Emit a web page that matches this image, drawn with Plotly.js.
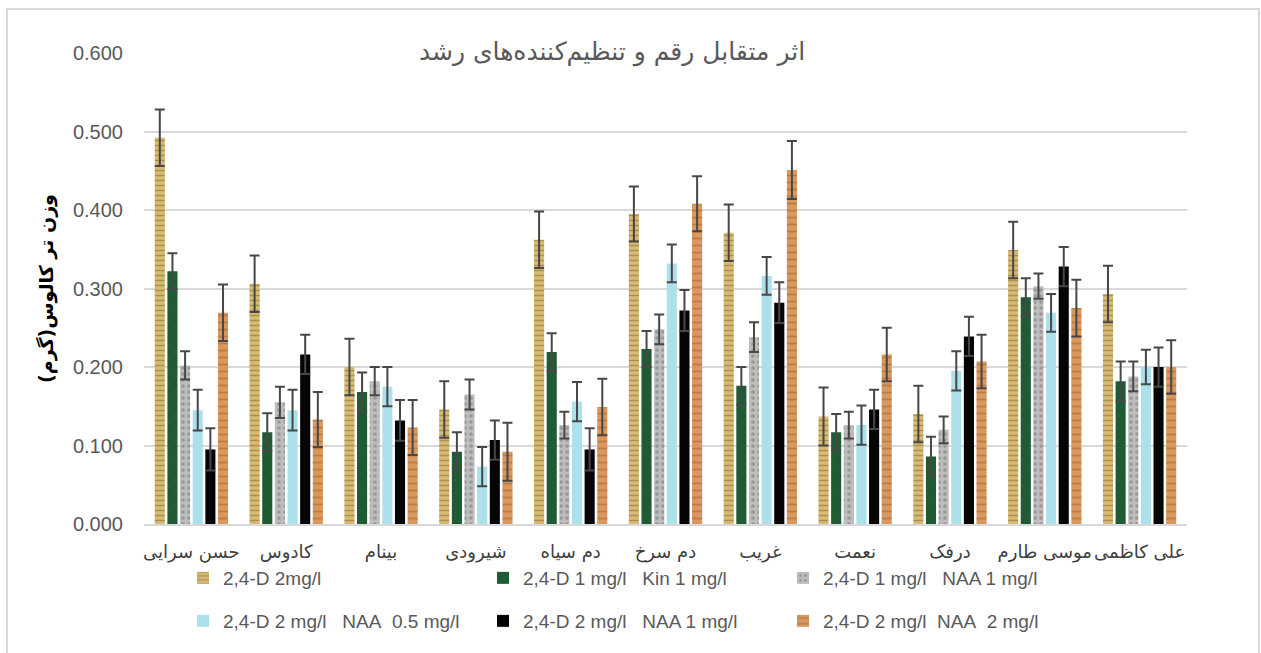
<!DOCTYPE html>
<html>
<head>
<meta charset="utf-8">
<script src="https://cdn.plot.ly/plotly-3.0.1.min.js"></script>
<style>
  html, body { margin: 0; padding: 0; background: #ffffff; }
  #chart { width: 1261px; height: 653px; }
  #frame { position: absolute; left: 6px; top: 8px; width: 1250px; height: 660px; border: 2px solid #d9d9d9; pointer-events: none; }
</style>
</head>
<body>
<div id="chart"></div>
<div id="frame"></div>
<script>
const categories = ["حسن سرایی", "کادوس", "بینام", "شیرودی", "دم سیاه", "دم سرخ", "غریب", "نعمت", "درفک", "موسی طارم", "علی کاظمی"];

const seriesNames = [
  "2,4-D 2mg/l",
  "2,4-D 1 mg/l\u00a0\u00a0\u00a0Kin 1 mg/l",
  "2,4-D 1 mg/l\u00a0\u00a0\u00a0NAA 1 mg/l",
  "2,4-D 2 mg/l\u00a0\u00a0\u00a0NAA\u00a0\u00a00.5 mg/l",
  "2,4-D 2 mg/l\u00a0\u00a0\u00a0NAA 1 mg/l",
  "2,4-D 2 mg/l\u00a0\u00a0NAA\u00a0\u00a02 mg/l"
];

const d2 = [0.492, 0.306, 0.200, 0.146, 0.362, 0.395, 0.371, 0.137, 0.140, 0.349, 0.293];
const d2Err = [0.036, 0.036, 0.036, 0.036, 0.036, 0.035, 0.036, 0.037, 0.036, 0.036, 0.036];

const d1Kin1 = [0.322, 0.117, 0.168, 0.092, 0.219, 0.223, 0.176, 0.117, 0.086, 0.289, 0.182];
const d1Kin1Err = [0.023, 0.024, 0.025, 0.025, 0.024, 0.023, 0.024, 0.023, 0.025, 0.024, 0.025];

const d1Naa1 = [0.202, 0.155, 0.182, 0.165, 0.126, 0.248, 0.238, 0.126, 0.120, 0.303, 0.188];
const d1Naa1Err = [0.018, 0.020, 0.018, 0.019, 0.017, 0.019, 0.019, 0.017, 0.017, 0.016, 0.019];

const d2Naa05 = [0.145, 0.145, 0.175, 0.073, 0.156, 0.332, 0.316, 0.126, 0.195, 0.269, 0.200];
const d2Naa05Err = [0.026, 0.026, 0.025, 0.025, 0.025, 0.024, 0.024, 0.025, 0.025, 0.024, 0.022];

const d2Naa1 = [0.095, 0.216, 0.132, 0.107, 0.095, 0.272, 0.282, 0.146, 0.239, 0.328, 0.200];
const d2Naa1Err = [0.027, 0.025, 0.026, 0.025, 0.027, 0.026, 0.026, 0.025, 0.025, 0.025, 0.025];

const d2Naa2 = [0.269, 0.133, 0.123, 0.092, 0.149, 0.408, 0.451, 0.216, 0.207, 0.275, 0.200];
const d2Naa2Err = [0.036, 0.035, 0.035, 0.037, 0.036, 0.035, 0.037, 0.034, 0.034, 0.036, 0.034];

const yTickVals = [0, 0.1, 0.2, 0.3, 0.4, 0.5, 0.6];
const yTickText = ["0.000", "0.100", "0.200", "0.300", "0.400", "0.500", "0.600"];

const values = [d2, d1Kin1, d1Naa1, d2Naa05, d2Naa1, d2Naa2];
const errors = [d2Err, d1Kin1Err, d1Naa1Err, d2Naa05Err, d2Naa1Err, d2Naa2Err];

const styles = [
  {color: "#d6bb74", pattern: {shape: "-", fgcolor: "#8a6a2e", fgopacity: 0.55, size: 5, solidity: 0.3, fillmode: "overlay"}},
  {color: "#1f5a33", pattern: {shape: "x", fgcolor: "#2e7446", fgopacity: 0.5, size: 9, solidity: 0.1, fillmode: "overlay"}},
  {color: "#bdbdbd", pattern: {shape: ".", fgcolor: "#808080", fgopacity: 0.6, size: 6, solidity: 0.3, fillmode: "overlay"}},
  {color: "#ace0ea"},
  {color: "#050505"},
  {color: "#d8985e", pattern: {shape: "-", fgcolor: "#9e6230", fgopacity: 0.5, size: 7, solidity: 0.25, fillmode: "overlay"}}
];

const FONT = "Liberation Sans, Arial, DejaVu Sans, sans-serif";

const traces = values.map((v, i) => {
  const marker = {color: styles[i].color, line: {width: 0}};
  if (styles[i].pattern) marker.pattern = styles[i].pattern;
  return {
    type: "bar",
    name: seriesNames[i],
    x: categories,
    y: v,
    legend: i < 3 ? "legend" : "legend2",
    marker: marker,
    error_y: {
      type: "data",
      array: errors[i],
      visible: true,
      color: "#474747",
      thickness: 2,
      width: 5
    },
    hoverinfo: "x+y+name"
  };
});

const plotLeft = 144, plotRight = 1187, plotTop = 53, plotBottom = 524;
const W = 1261, H = 653;
const ph = plotBottom - plotTop;

const layout = {
  width: W,
  height: H,
  margin: {l: plotLeft, r: W - plotRight, t: plotTop, b: H - plotBottom, pad: 0},
  paper_bgcolor: "#ffffff",
  plot_bgcolor: "#ffffff",
  barmode: "group",
  bargap: 0.2,
  bargroupgap: 0.2,
  font: {family: FONT, color: "#595959"},
  title: {
    text: "اثر متقابل رقم و تنظیم‌کننده‌های رشد",
    font: {size: 25, color: "#595959", family: "DejaVu Sans, sans-serif"},
    x: 612 / W,
    xref: "container",
    xanchor: "center",
    y: 1 - 51 / H,
    yref: "container",
    yanchor: "middle"
  },
  xaxis: {
    type: "category",
    showgrid: false,
    showline: true,
    linecolor: "#d9d9d9",
    linewidth: 2,
    ticks: "",
    tickangle: 0,
    tickfont: {size: 18, color: "#404040", family: "DejaVu Sans, sans-serif"},
    ticklabelstandoff: 10,
    fixedrange: true
  },
  yaxis: {
    range: [0, 0.6],
    tickvals: yTickVals,
    ticktext: yTickText,
    showgrid: true,
    gridcolor: "#d9d9d9",
    gridwidth: 2,
    zeroline: false,
    showline: false,
    ticks: "",
    tickfont: {size: 20, color: "#595959", family: FONT},
    ticklabelstandoff: 20,
    title: {
      text: "وزن تر کالوس(گرم)",
      font: {size: 19, color: "#000000", family: "DejaVu Sans, sans-serif", weight: "bold"},
      standoff: 14
    },
    fixedrange: true
  },
  legend: {
    orientation: "h",
    entrywidth: 255,
    entrywidthmode: "pixels",
    x: (183 - plotLeft) / (plotRight - plotLeft),
    xanchor: "left",
    y: (plotBottom - 578) / ph,
    yanchor: "middle",
    font: {size: 19, color: "#595959", family: FONT},
    bgcolor: "rgba(0,0,0,0)",
    traceorder: "normal"
  },
  legend2: {
    orientation: "h",
    entrywidth: 255,
    entrywidthmode: "pixels",
    x: (183 - plotLeft) / (plotRight - plotLeft),
    xanchor: "left",
    y: (plotBottom - 621) / ph,
    yanchor: "middle",
    font: {size: 19, color: "#595959", family: FONT},
    bgcolor: "rgba(0,0,0,0)",
    traceorder: "normal"
  },
  showlegend: true
};

Plotly.newPlot("chart", traces, layout, {displayModeBar: false, responsive: false});
</script>
</body>
</html>
